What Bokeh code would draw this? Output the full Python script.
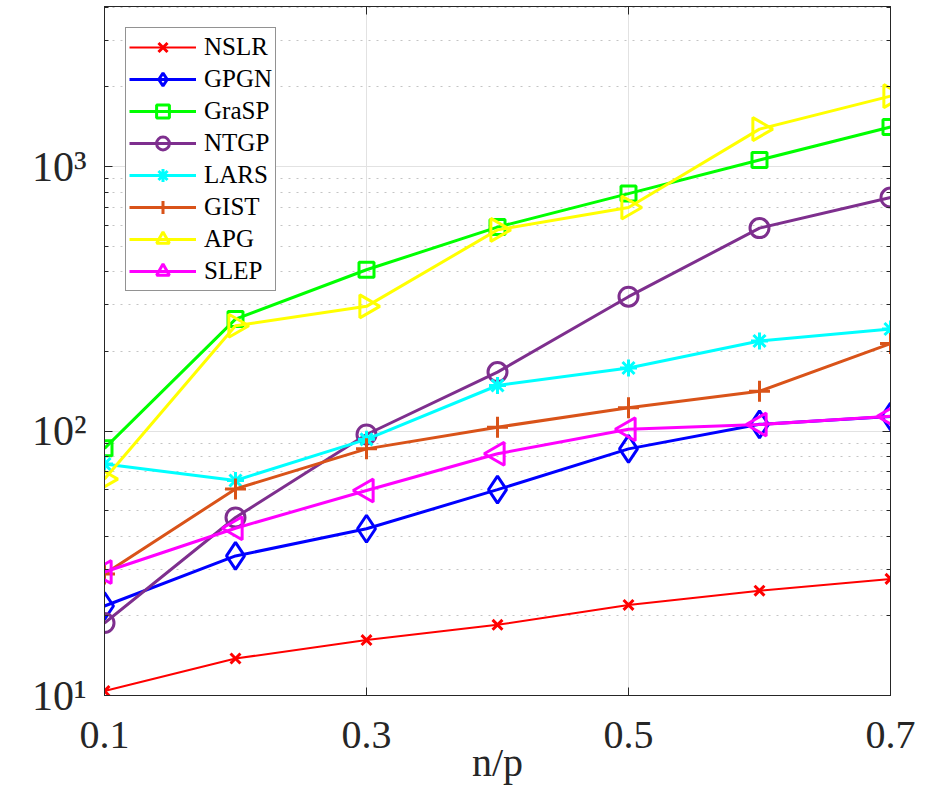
from bokeh.plotting import figure
from bokeh.models import FixedTicker, LinearAxis, LogAxis, Range1d
from bokeh.embed import file_html
from bokeh.resources import INLINE

# ---- data ----
x = [0.1, 0.2, 0.3, 0.4, 0.5, 0.6, 0.7]
nslr = [10.4, 13.8, 16.2, 18.5, 22.0, 24.9, 27.6]
gpgn = [21.8, 33.7, 42.7, 60.0, 85.6, 106.0, 113.5]
grasp = [86.0, 265.0, 407.0, 590.0, 790.0, 1058.0, 1410.0]
ntgp = [18.8, 47.1, 97.0, 167.0, 322.0, 585.0, 763.0]
lars = [75.0, 65.0, 93.0, 148.6, 173.0, 219.0, 243.0]
gist = [28.8, 60.4, 85.6, 103.4, 122.4, 141.4, 214.0]
apg = [65.8, 250.0, 296.0, 576.0, 700.0, 1385.0, 1845.0]
slep = [29.3, 42.9, 59.6, 82.0, 101.6, 105.8, 113.7]

names = ["NSLR", "GPGN", "GraSP", "NTGP", "LARS", "GIST", "APG", "SLEP"]
series = [nslr, gpgn, grasp, ntgp, lars, gist, apg, slep]

x_ticks = [0.1, 0.3, 0.5, 0.7]
y_ticks = [10, 100, 1000]
y_tick_labels = ["10\u00b9", "10\u00b2", "10\u00b3"]
y_minor = [20, 30, 40, 50, 60, 70, 80, 90,
           200, 300, 400, 500, 600, 700, 800, 900,
           2000, 3000, 4000]

# ---- styles ----
colors = ["#ff0000", "#0000ff", "#00ff00", "#7e2f8e",
          "#00ffff", "#d95319", "#ffff00", "#ff00ff"]
markers = ["x", "diamond", "square", "circle", "asterisk", "cross", "triangle", "triangle"]
msizes = [14, 27, 15, 19, 17, 21, 23, 23]
angles = [0, 0, 0, 0, 0, 0, -1.5708, 1.5708]
lwidths = [2.0, 3.0, 3.0, 3.0, 3.0, 3.0, 3.0, 3.0]

FONT = "Liberation Serif"
AX = "#262626"

p = figure(width=936, height=799, y_axis_type="log",
           x_range=Range1d(0.1, 0.7), y_range=Range1d(10, 4027),
           output_backend="svg", toolbar_location=None,
           min_border_left=104, min_border_right=46,
           min_border_top=6, min_border_bottom=104)
p.background_fill_color = "white"
p.outline_line_color = AX
p.outline_line_width = 1

for ys, name, c, m, s, a, lw in zip(series, names, colors, markers, msizes, angles, lwidths):
    p.line(x, ys, line_color=c, line_width=lw, legend_label=name)
    p.scatter(x, ys, marker=m, size=s, angle=a, line_color=c, fill_color=None,
              line_width=3.0, legend_label=name)

xt = FixedTicker(ticks=x_ticks)
yt = FixedTicker(ticks=y_ticks, minor_ticks=y_minor)
blank_x = {t: "" for t in x_ticks}
blank_y = {t: "" for t in y_ticks}

# bottom axis
xa = p.xaxis[0]
xa.ticker = xt
xa.axis_label = "n/p"
xa.axis_label_text_font = FONT
xa.axis_label_text_font_size = "40px"
xa.axis_label_text_font_style = "normal"
xa.axis_label_text_color = AX
xa.axis_label_standoff = -11
xa.major_label_text_font = FONT
xa.major_label_text_font_size = "40px"
xa.major_label_text_color = AX
xa.major_label_standoff = 26
xa.major_tick_in = 8
xa.major_tick_out = 0
xa.minor_tick_line_color = None
xa.axis_line_color = AX
xa.major_tick_line_color = AX

# left axis with 10^k labels
ya = p.yaxis[0]
ya.ticker = yt
ya.major_label_overrides = dict(zip(y_ticks, y_tick_labels))
ya.major_label_text_font = FONT
ya.major_label_text_font_size = "42px"
ya.major_label_text_color = AX
ya.major_label_standoff = 18
ya.major_tick_in = 8
ya.major_tick_out = 0
ya.minor_tick_in = 4
ya.minor_tick_out = 0
ya.axis_line_color = AX
ya.major_tick_line_color = AX
ya.minor_tick_line_color = AX

top = LinearAxis(ticker=FixedTicker(ticks=x_ticks), major_label_overrides=blank_x,
                 major_label_standoff=0, major_tick_in=8, major_tick_out=0,
                 minor_tick_line_color=None, axis_line_color=AX, major_tick_line_color=AX)
p.add_layout(top, "above")
right = LogAxis(ticker=FixedTicker(ticks=y_ticks, minor_ticks=y_minor),
                major_label_overrides=blank_y, major_label_standoff=0,
                major_tick_in=8, major_tick_out=0, minor_tick_in=4, minor_tick_out=0,
                axis_line_color=AX, major_tick_line_color=AX, minor_tick_line_color=AX)
p.add_layout(right, "right")

# grids
p.xgrid.ticker = xt
p.xgrid.grid_line_color = "#e2e2e2"
p.xgrid.grid_line_width = 1
p.ygrid.ticker = yt
p.ygrid.grid_line_color = "#e2e2e2"
p.ygrid.grid_line_width = 1
p.ygrid.minor_grid_line_color = "#c4c4c4"
p.ygrid.minor_grid_line_dash = "2 6"
p.ygrid.minor_grid_line_width = 1

# legend
lg = p.legend[0]
lg.location = "top_left"
lg.margin = 21
lg.padding = 3
lg.spacing = 0
lg.glyph_width = 67
lg.glyph_height = 32
lg.label_height = 32
lg.label_standoff = 8
lg.label_text_font = FONT
lg.label_text_font_size = "25px"
lg.label_text_color = "black"
lg.border_line_color = AX
lg.border_line_width = 1
lg.background_fill_color = "white"
lg.background_fill_alpha = 1

open("out.html", "w").write(file_html(p, INLINE))
